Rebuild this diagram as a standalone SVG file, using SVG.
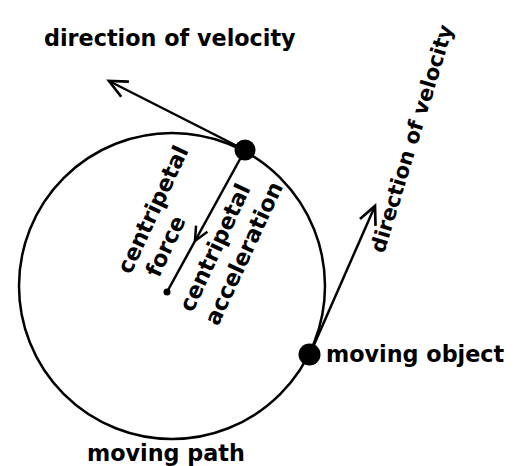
<svg xmlns="http://www.w3.org/2000/svg" width="522" height="466" viewBox="0 0 522 466">
  <style>
    .lbl { font-family: "DejaVu Sans", "Liberation Sans", sans-serif; font-weight: bold; font-size: 22.3px; fill: #000; }
    .sm { font-size: 21px; }
    .ln { stroke: #000; stroke-width: 2.5; fill: none; }
    .dot { fill: #000; }
  </style>
  <defs>
    <marker id="chev" markerUnits="userSpaceOnUse" markerWidth="40" markerHeight="40" refX="0" refY="0" orient="auto" overflow="visible">
      <path d="M-18,-8.5 L0,0 L-18,8.5" fill="none" stroke="#000" stroke-width="2.7" stroke-linejoin="miter"/>
    </marker>
    <marker id="chevs" markerUnits="userSpaceOnUse" markerWidth="40" markerHeight="40" refX="0" refY="0" orient="auto" overflow="visible">
      <path d="M-14,-6.5 L0,0 L-14,6.5" fill="none" stroke="#000" stroke-width="2.5"/>
    </marker>
  </defs>

  <g id="moving-path">
    <circle class="ln" cx="172" cy="286" r="153"/>
    <text class="lbl" x="87" y="461">moving path</text>
  </g>

  <g id="connectors">
    <path class="ln" d="M245,150 L109,81" marker-end="url(#chev)" stroke-width="2.7"/>
    <path class="ln" d="M310,354 L375,206" marker-end="url(#chev)" stroke-width="2.7"/>
    <path class="ln" d="M245,150 L195,241 L167,292" marker-mid="url(#chevs)"/>
  </g>

  <g id="top-object">
    <circle class="dot" cx="245" cy="150" r="10.5"/>
  </g>

  <g id="center-point">
    <circle class="dot" cx="167" cy="292" r="3.5"/>
  </g>

  <g id="moving-object">
    <circle class="dot" cx="309.5" cy="354.5" r="11"/>
    <text class="lbl" x="326" y="362">moving object</text>
  </g>

  <g id="label-velocity-top">
    <text class="lbl" x="44" y="46">direction of velocity</text>
  </g>

  <g id="label-velocity-right">
    <text class="lbl sm" transform="translate(384,254) rotate(-73)">direction of velocity</text>
  </g>

  <g id="label-centripetal-force">
    <text class="lbl" font-size="22" transform="translate(130.6,275.3) rotate(-65)">centripetal</text>
    <text class="lbl" font-size="22" transform="translate(159,278.5) rotate(-65)">force</text>
  </g>

  <g id="label-centripetal-acceleration">
    <text class="lbl" transform="translate(192.6,313.3) rotate(-65)">centripetal</text>
    <text class="lbl" transform="translate(218,326.7) rotate(-65)">acceleration</text>
  </g>
</svg>
